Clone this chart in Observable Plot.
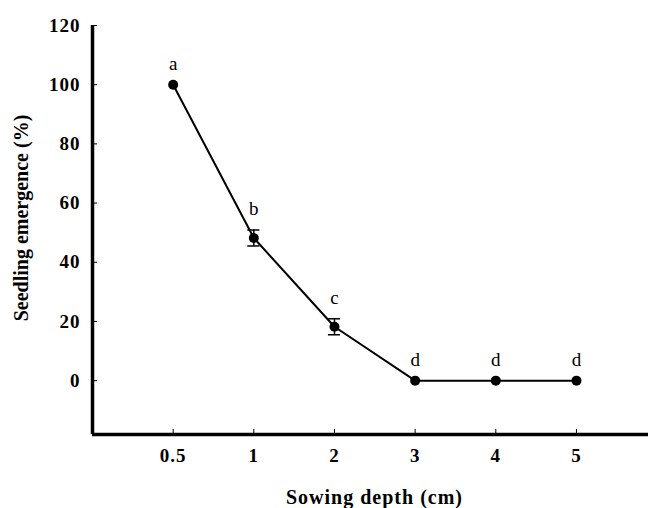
<!DOCTYPE html>
<html>
<head>
<meta charset="utf-8">
<script src="https://cdn.jsdelivr.net/npm/d3@7"></script>
<script src="https://cdn.jsdelivr.net/npm/@observablehq/plot@0.6"></script>
<style>
  html, body { margin: 0; padding: 0; background: #fff; }
  #chart svg { font-family: "Liberation Serif", "Times New Roman", serif; }
  #chart g[aria-label="y-axis tick label"] text, #chart g[aria-label="x-axis tick label"] text { letter-spacing: 1px; }
  #chart g.xtitle text { letter-spacing: 1px; }
</style>
</head>
<body>
<div id="chart"></div>
<script>
const depths = ["0.5", "1", "2", "3", "4", "5"];
const emergence = [100, 48.2, 18.2, 0, 0, 0];
const errors = [0, 2.7, 2.7, 0, 0, 0];
const letters = ["a", "b", "c", "d", "d", "d"];
const yTicks = [0, 20, 40, 60, 80, 100, 120];
const xTitle = "Sowing depth (cm)";
const yTitle = "Seedling emergence (%)";

const data = depths.map((d, i) => ({i, depth: d, v: emergence[i], e: errors[i], letter: letters[i]}));
const errData = data.filter(d => d.e > 0);
const yMin = -18.2, yMax = 120, xMin = -1, xMax = 5.893;
const capHalf = 0.075;

const chart = Plot.plot({
  width: 648,
  height: 508,
  marginLeft: 92,
  marginRight: 0,
  marginTop: 25,
  marginBottom: 74,
  style: {background: "#fff", color: "#000"},
  x: {domain: [xMin, xMax]},
  y: {domain: [yMin, yMax]},
  marks: [
    Plot.axisY({
      ticks: yTicks, tickSize: -5, tickPadding: 17, fontSize: 19, fontWeight: "bold", label: null
    }),
    Plot.axisX({
      ticks: d3.range(depths.length), tickFormat: i => depths[i], tickSize: -5, tickPadding: 19,
      fontSize: 19, fontWeight: "bold", label: null
    }),
    Plot.text([xTitle], {frameAnchor: "bottom", text: d => d, textAnchor: "middle", lineAnchor: "bottom", dy: 69, dx: 4,
      fontSize: 20, fontWeight: "bold", fill: "#000", className: "xtitle"}),
    Plot.text([yTitle], {frameAnchor: "left", text: d => d, rotate: -90, textAnchor: "middle", lineAnchor: "middle", dx: -71, dy: -12,
      fontSize: 20, fontWeight: "bold", fill: "#000"}),
    Plot.ruleX([xMin], {y1: yMin, y2: yMax, strokeWidth: 3.5}),
    Plot.ruleY([yMin], {x1: xMin, x2: xMax, strokeWidth: 3.5}),
    Plot.line(data, {x: "i", y: "v", stroke: "#000", strokeWidth: 2}),
    Plot.ruleX(errData, {x: "i", y1: d => d.v - d.e, y2: d => d.v + d.e, strokeWidth: 1.5}),
    Plot.ruleY(errData, {y: d => d.v + d.e, x1: d => d.i - capHalf, x2: d => d.i + capHalf, strokeWidth: 1.5}),
    Plot.ruleY(errData, {y: d => d.v - d.e, x1: d => d.i - capHalf, x2: d => d.i + capHalf, strokeWidth: 1.5}),
    Plot.dot(data, {x: "i", y: "v", r: 5, fill: "#000", stroke: "none"}),
    Plot.text(data, {x: "i", y: d => d.v + d.e, text: "letter", dy: -21, fontSize: 19, fill: "#000"})
  ]
});
document.getElementById("chart").appendChild(chart);
</script>
</body>
</html>
